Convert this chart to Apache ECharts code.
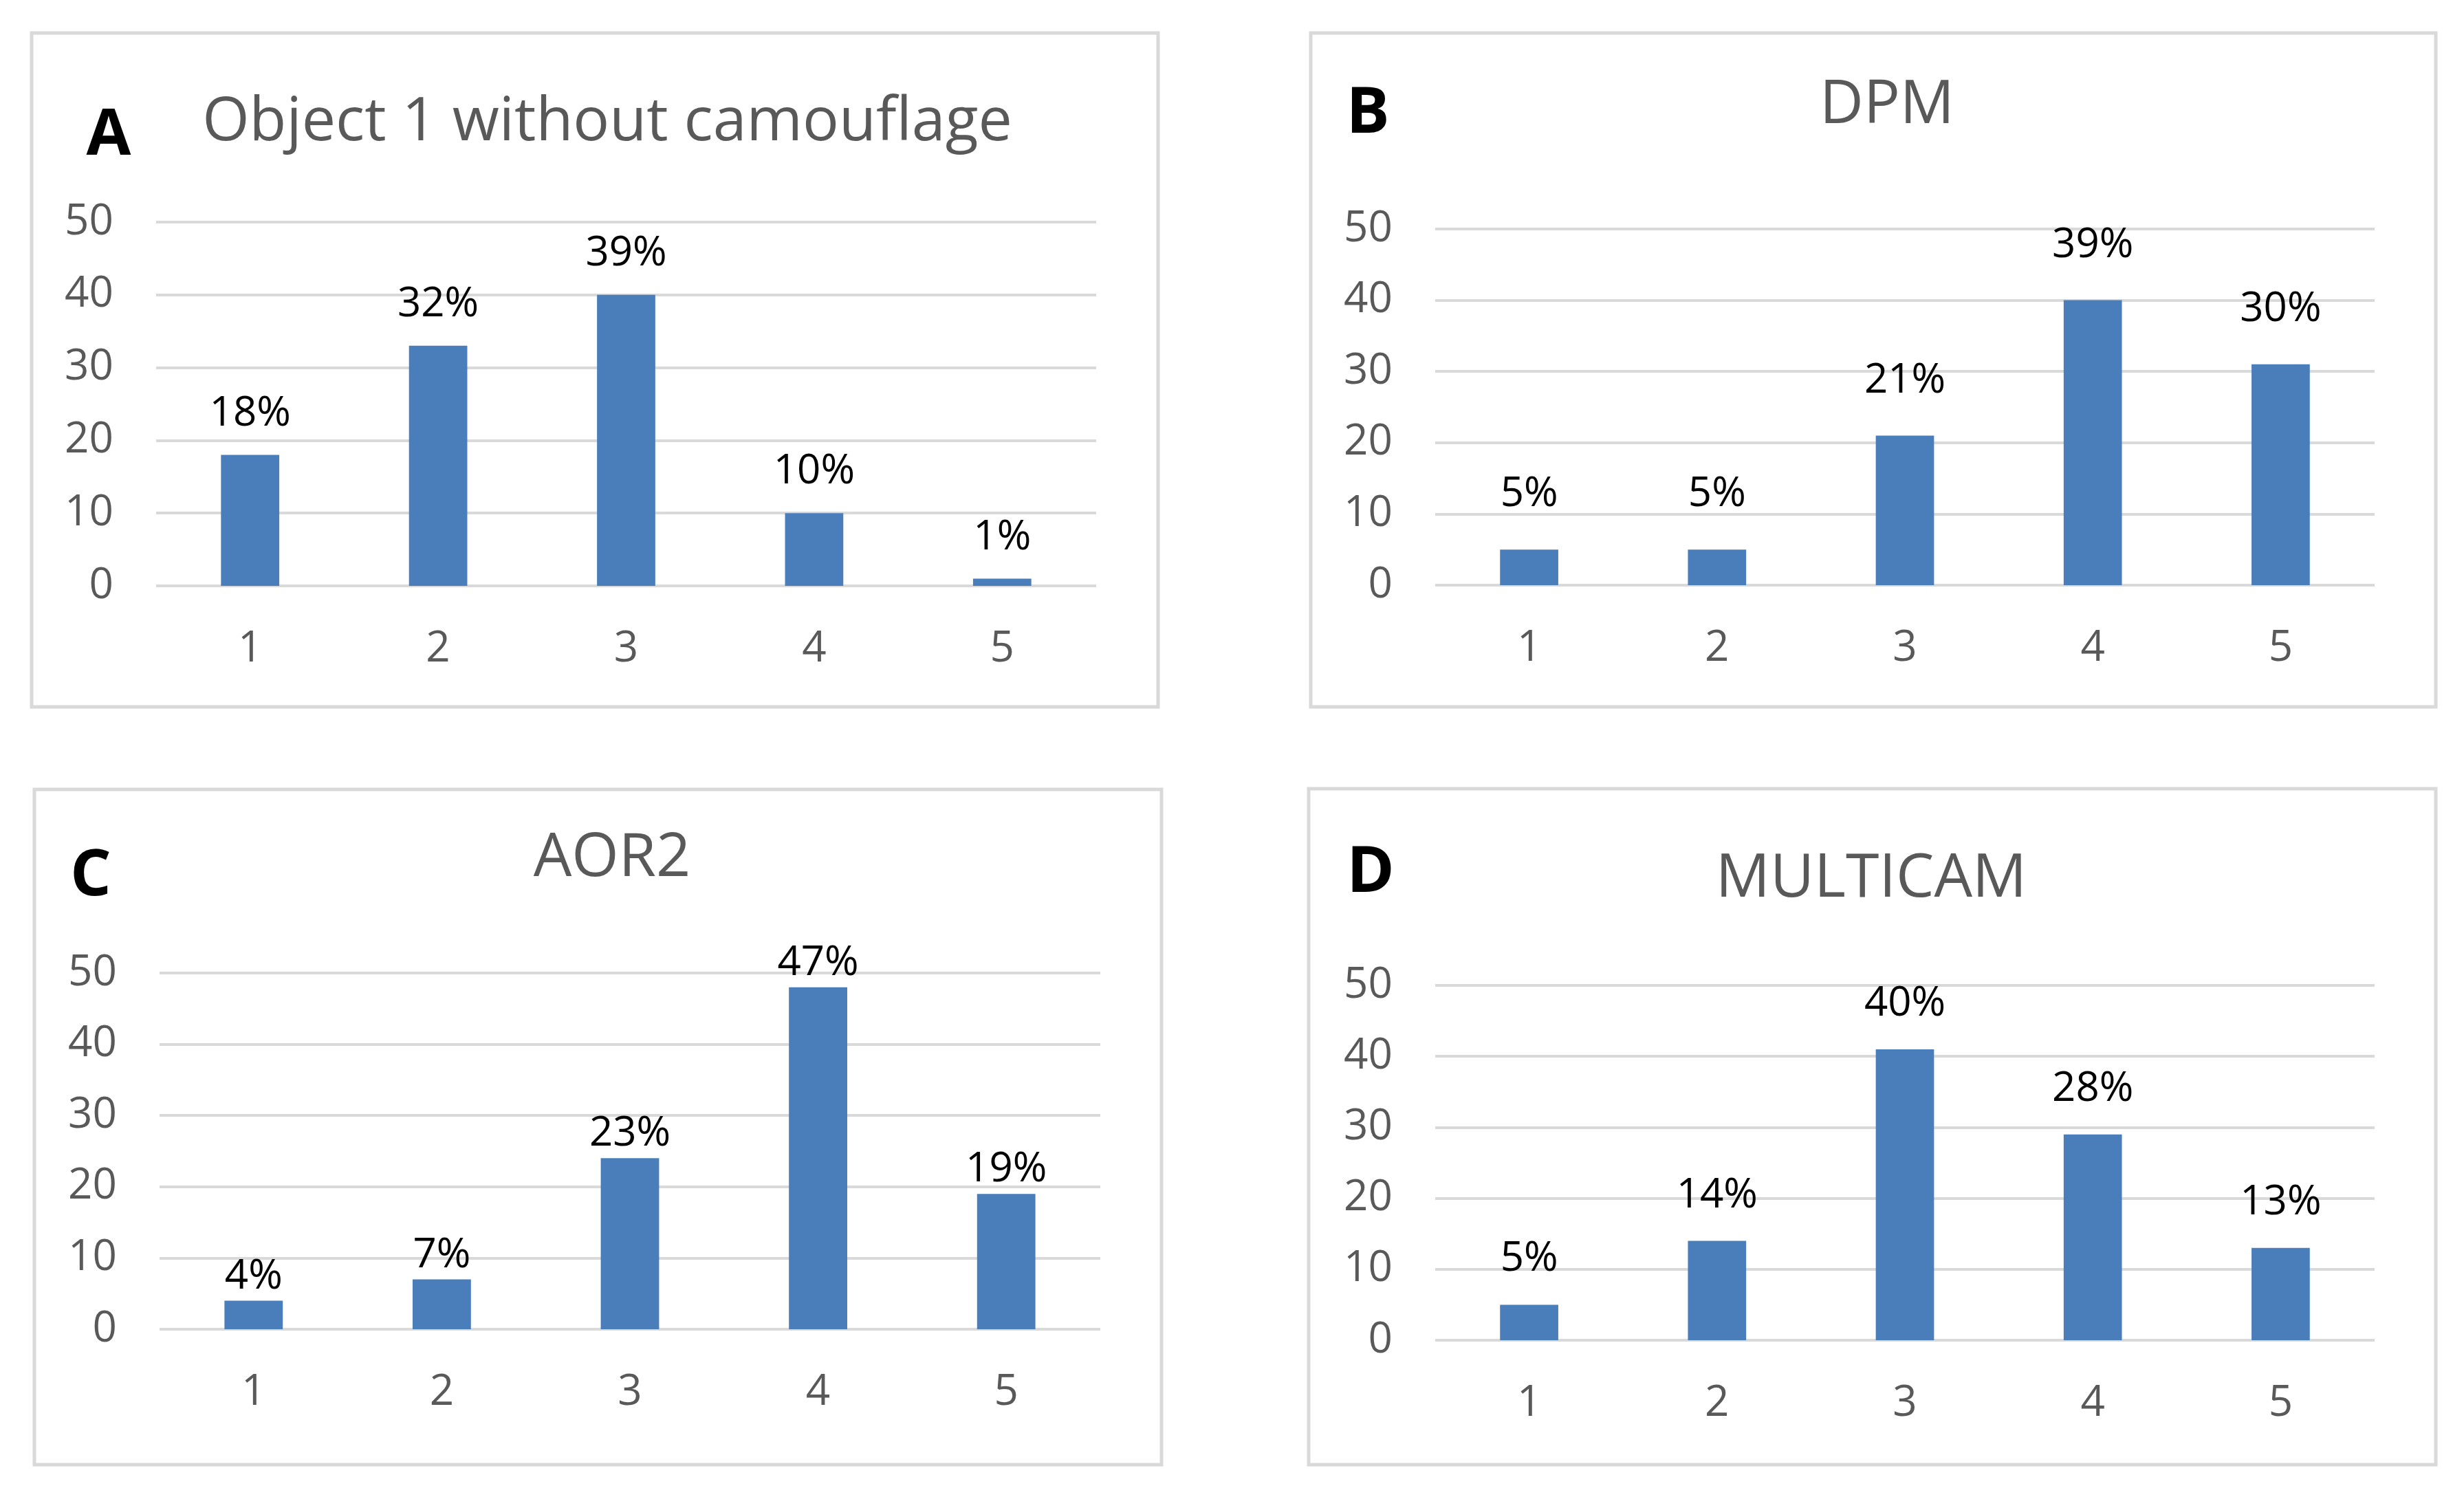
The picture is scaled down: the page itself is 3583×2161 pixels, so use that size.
<!DOCTYPE html>
<html>
<head>
<meta charset="utf-8">
<script src="https://cdn.jsdelivr.net/npm/echarts@6/dist/echarts.min.js"></script>
<style>
  html, body { margin: 0; padding: 0; background: #ffffff; }
  #chart { width: 3583px; height: 2161px; }
</style>
</head>
<body>
<div id="chart"></div>
<script>
// ---- data ----
const categories = ['1', '2', '3', '4', '5'];
const countsA = [18, 33, 40, 10, 1];
const pctA = ['18%', '32%', '39%', '10%', '1%'];
const countsB = [5, 5, 21, 40, 31];
const pctB = ['5%', '5%', '21%', '39%', '30%'];
const countsC = [4, 7, 24, 48, 19];
const pctC = ['4%', '7%', '23%', '47%', '19%'];
const countsD = [5, 14, 41, 29, 13];
const pctD = ['5%', '14%', '40%', '28%', '13%'];
const titles = ['Object 1 without camouflage', 'DPM', 'AOR2', 'MULTICAM'];
const letters = ['A', 'B', 'C', 'D'];
const yMin = 0, yMax = 50, yStep = 10;

const seriesValues = [countsA, countsB, countsC, countsD];
const seriesLabels = [pctA, pctB, pctC, pctD];

// ---- layout (pixels) ----
const layout = [
  { frame: [46, 48, 1684, 1028], grid: [227, 323, 1594, 852], letter: [158, 198], title: [883, 179], dist: 30 },
  { frame: [1906, 48, 3542, 1028], grid: [2087, 333, 3453, 851], letter: [1989, 166], title: [2744, 154], dist: 50 },
  { frame: [50, 1148, 1689, 2130], grid: [232, 1415, 1600, 1933], letter: [132, 1275], title: [890, 1249], dist: 5 },
  { frame: [1903, 1147, 3542, 2130], grid: [2087, 1433, 3453, 1949], letter: [1993, 1270], title: [2721, 1279], dist: 36 }
];

const FONT = "'Open Sans', 'Noto Sans', sans-serif";
const GRID_COLOR = '#d9d9d9';
const AXIS_TEXT = '#595959';
const BAR_COLOR = '#4a7ebb';

const grids = [], xAxes = [], yAxes = [], series = [], graphics = [];

layout.forEach((p, i) => {
  const [gl, gt, gr, gb] = p.grid;
  grids.push({ left: gl, top: gt, width: gr - gl, height: gb - gt, containLabel: false });
  xAxes.push({
    type: 'category', gridIndex: i, data: categories,
    axisLine: { show: false }, axisTick: { show: false },
    axisLabel: { color: AXIS_TEXT, fontSize: 62, fontFamily: FONT, margin: 61 }
  });
  yAxes.push({
    type: 'value', gridIndex: i, min: yMin, max: yMax, interval: yStep,
    axisLine: { show: false }, axisTick: { show: false },
    axisLabel: { color: AXIS_TEXT, fontSize: 62, fontFamily: FONT, margin: 62 },
    splitLine: { show: true, lineStyle: { color: GRID_COLOR, width: 4 } }
  });
  const labels = seriesLabels[i];
  series.push({
    type: 'bar', xAxisIndex: i, yAxisIndex: i,
    data: seriesValues[i], barWidth: '31%',
    itemStyle: { color: BAR_COLOR },
    label: {
      show: true, position: 'top', distance: p.dist,
      color: '#000000', fontSize: 60, fontFamily: FONT,
      formatter: (d) => labels[d.dataIndex]
    },
    silent: true, animation: false
  });
  const [fl, ft, fr, fb] = p.frame;
  graphics.push({
    type: 'rect', z: -1,
    shape: { x: fl, y: ft, width: fr - fl, height: fb - ft },
    style: { fill: '#ffffff', stroke: GRID_COLOR, lineWidth: 5 }
  });
  graphics.push({
    type: 'text', x: p.letter[0], y: p.letter[1],
    style: { text: letters[i], font: 'bold 94px ' + FONT, fill: '#000000', align: 'center', verticalAlign: 'middle' }
  });
  graphics.push({
    type: 'text', x: p.title[0], y: p.title[1],
    style: { text: titles[i], font: '88px ' + FONT, fill: AXIS_TEXT, align: 'center', verticalAlign: 'middle' }
  });
});

const chart = echarts.init(document.getElementById('chart'), null, { renderer: 'canvas' });
chart.setOption({
  backgroundColor: '#ffffff',
  animation: false,
  grid: grids,
  xAxis: xAxes,
  yAxis: yAxes,
  series: series,
  graphic: graphics
});
</script>
</body>
</html>
